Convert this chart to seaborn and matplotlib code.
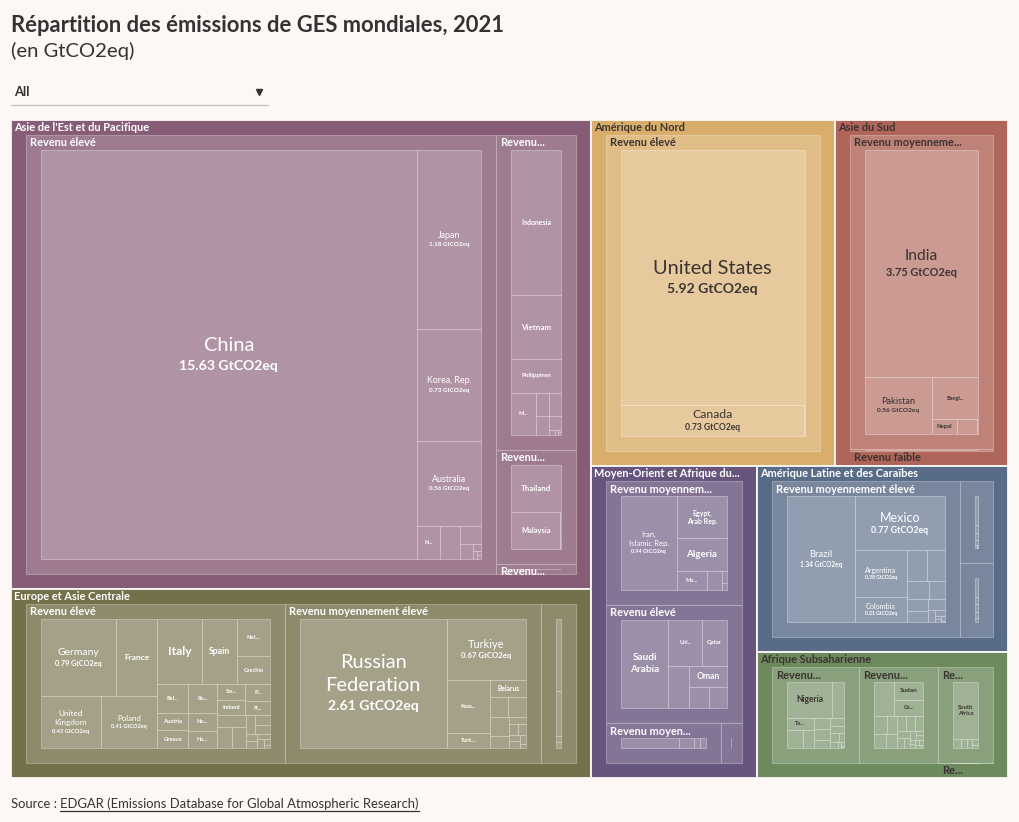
import matplotlib
matplotlib.use("Agg")
import matplotlib.pyplot as plt
import seaborn as sns
import numpy as np
import pandas as pd
from functools import lru_cache
from matplotlib.patches import Rectangle
from matplotlib.font_manager import FontProperties
from matplotlib.textpath import TextPath
import matplotlib.colors as mcolors

# ------------------------------------------------------------------ data
title = "Répartition des émissions de GES mondiales, 2021"
subtitle = "(en GtCO2eq)"
source_prefix = "Source : "
source_link = "EDGAR (Emissions Database for Global Atmospheric Research)"
dropdown_value = "All"
unit = "GtCO2eq"

regions = ["Asie de l'Est et du Pacifique", "Europe et Asie Centrale", "Amérique du Nord",
           "Asie du Sud", "Moyen-Orient et Afrique du Nord",
           "Amérique Latine et des Caraïbes", "Afrique Subsaharienne"]
region_colors = ["#875C76", "#747049", "#D9AE6A", "#AF655A", "#67557D", "#586B87", "#6C8A5D"]

INC_E = "Revenu élevé"
INC_ME = "Revenu moyennement élevé"
INC_MF = "Revenu moyennement faible"
INC_F = "Revenu faible"

# Asie de l'Est et du Pacifique
eap_eleve_pays = ["China", "Japan", "Korea, Rep.", "Australia", "New Zealand", "Singapore",
                  "Hong Kong SAR, China", "Brunei Darussalam", "New Caledonia", "Macao SAR, China",
                  "Guam", "French Polynesia"]
eap_eleve_val = [15.63, 1.18, 0.73, 0.56, 0.08, 0.065, 0.04, 0.02, 0.006, 0.003, 0.002, 0.002]
eap_mfaible_pays = ["Indonesia", "Vietnam", "Philippines", "Myanmar", "Cambodia", "Mongolia",
                    "Lao PDR", "Papua New Guinea", "Timor-Leste", "Solomon Islands", "Vanuatu", "Samoa"]
eap_mfaible_val = [1.13, 0.50, 0.26, 0.16, 0.05, 0.045, 0.04, 0.025, 0.004, 0.002, 0.001, 0.001]
eap_melev_pays = ["Thailand", "Malaysia", "Fiji", "Tonga"]
eap_melev_val = [0.45, 0.35, 0.004, 0.001]
eap_faible_pays = ["Korea, Dem. People's Rep."]
eap_faible_val = [0.07]

# Europe et Asie Centrale
eca_eleve_pays = ["Germany", "France", "United Kingdom", "Poland", "Italy", "Spain", "Netherlands",
                  "Czechia", "Belgium", "Romania", "Austria", "Greece", "Norway", "Hungary", "Sweden",
                  "Ireland", "Portugal", "Finland", "Switzerland", "Denmark", "Slovak Republic",
                  "Croatia", "Lithuania", "Slovenia", "Estonia", "Latvia", "Luxembourg", "Cyprus",
                  "Iceland", "Malta"]
eca_eleve_val = [0.79, 0.44, 0.43, 0.41, 0.40, 0.31, 0.17, 0.125, 0.12, 0.115, 0.075, 0.074, 0.072,
                 0.068, 0.063, 0.06, 0.058, 0.048, 0.046, 0.045, 0.04, 0.024, 0.02, 0.017, 0.012,
                 0.011, 0.009, 0.009, 0.005, 0.002]
eca_melev_pays = ["Russian Federation", "Turkiye", "Kazakhstan", "Turkmenistan", "Belarus",
                  "Azerbaijan", "Serbia", "Bulgaria", "Bosnia and Herzegovina", "Georgia", "Moldova",
                  "Armenia", "North Macedonia", "Albania", "Kosovo", "Montenegro"]
eca_melev_val = [2.61, 0.67, 0.32, 0.09, 0.085, 0.05, 0.05, 0.05, 0.03, 0.018, 0.013, 0.012,
                 0.01, 0.01, 0.008, 0.004]
eca_mfaible_pays = ["Ukraine", "Uzbekistan", "Kyrgyz Republic", "Tajikistan"]
eca_mfaible_val = [0.30, 0.19, 0.025, 0.025]

# Amérique du Nord
na_eleve_pays = ["United States", "Canada", "Bermuda"]
na_eleve_val = [5.92, 0.73, 0.001]

# Asie du Sud
sa_mfaible_pays = ["India", "Pakistan", "Bangladesh", "Nepal", "Sri Lanka", "Bhutan"]
sa_mfaible_val = [3.75, 0.56, 0.285, 0.055, 0.042, 0.003]
sa_faible_pays = ["Afghanistan"]
sa_faible_val = [0.03]

# Moyen-Orient et Afrique du Nord
mena_mfaible_pays = ["Iran, Islamic Rep.", "Egypt, Arab Rep.", "Algeria", "Morocco", "Tunisia",
                     "West Bank and Gaza", "Djibouti"]
mena_mfaible_val = [0.94, 0.38, 0.30, 0.10, 0.05, 0.01, 0.005]
mena_eleve_pays = ["Saudi Arabia", "United Arab Emirates", "Qatar", "Kuwait", "Oman", "Israel", "Bahrain"]
mena_eleve_val = [0.77, 0.29, 0.21, 0.16, 0.14, 0.08, 0.07]
mena_melev_pays = ["Iraq", "Libya", "Jordan", "Lebanon"]
mena_melev_val = [0.33, 0.09, 0.035, 0.03]
mena_faible_pays = ["Syrian Arab Republic", "Yemen, Rep."]
mena_faible_val = [0.05, 0.04]

# Amérique Latine et des Caraïbes
lac_melev_pays = ["Brazil", "Mexico", "Argentina", "Colombia", "Peru", "Venezuela, RB", "Ecuador",
                  "Paraguay", "Guatemala", "Dominican Republic", "Cuba", "Costa Rica", "Jamaica",
                  "Guyana", "Suriname", "Belize", "St. Lucia", "Grenada"]
lac_melev_val = [1.34, 0.77, 0.38, 0.21, 0.095, 0.09, 0.06, 0.045, 0.04, 0.035, 0.03, 0.015, 0.01,
                 0.003, 0.003, 0.003, 0.0005, 0.0003]
lac_eleve_pays = ["Chile", "Uruguay", "Trinidad and Tobago", "Panama", "Bahamas, The", "Barbados",
                  "Aruba", "Antigua and Barbuda"]
lac_eleve_val = [0.16, 0.045, 0.035, 0.03, 0.008, 0.004, 0.002, 0.001]
lac_mfaible_pays = ["Bolivia", "Honduras", "Nicaragua", "Haiti", "El Salvador"]
lac_mfaible_val = [0.11, 0.045, 0.045, 0.035, 0.025]

# Afrique Subsaharienne
ssa_mfaible_pays = ["Nigeria", "Angola", "Tanzania", "Kenya", "Cameroon", "Ghana", "Côte d'Ivoire",
                    "Zambia", "Zimbabwe", "Senegal", "Benin", "Mauritania", "Congo, Rep.", "Lesotho",
                    "Eswatini", "Comoros", "Cabo Verde"]
ssa_mfaible_val = [0.42, 0.11, 0.085, 0.075, 0.05, 0.05, 0.045, 0.035, 0.03, 0.025, 0.02, 0.012,
                   0.012, 0.004, 0.003, 0.001, 0.001]
ssa_faible_pays = ["Ethiopia", "Sudan", "Congo, Dem. Rep.", "Uganda", "Mozambique", "Mali", "Niger",
                   "Madagascar", "Chad", "Burkina Faso", "South Sudan", "Somalia", "Malawi", "Guinea",
                   "Togo", "Rwanda", "Sierra Leone", "Burundi", "Central African Republic", "Liberia",
                   "Eritrea", "Gambia, The"]
ssa_faible_val = [0.19, 0.14, 0.13, 0.065, 0.05, 0.045, 0.04, 0.04, 0.035, 0.035, 0.025, 0.02,
                  0.015, 0.015, 0.008, 0.008, 0.007, 0.006, 0.006, 0.005, 0.005, 0.002]
ssa_melev_pays = ["South Africa", "Gabon", "Botswana", "Namibia", "Equatorial Guinea", "Mauritius"]
ssa_melev_val = [0.535, 0.025, 0.02, 0.018, 0.012, 0.006]
ssa_eleve_pays = ["Seychelles"]
ssa_eleve_val = [0.003]

group_table = [
    (0, INC_E, eap_eleve_pays, eap_eleve_val),
    (0, INC_MF, eap_mfaible_pays, eap_mfaible_val),
    (0, INC_ME, eap_melev_pays, eap_melev_val),
    (0, INC_F, eap_faible_pays, eap_faible_val),
    (1, INC_E, eca_eleve_pays, eca_eleve_val),
    (1, INC_ME, eca_melev_pays, eca_melev_val),
    (1, INC_MF, eca_mfaible_pays, eca_mfaible_val),
    (2, INC_E, na_eleve_pays, na_eleve_val),
    (3, INC_MF, sa_mfaible_pays, sa_mfaible_val),
    (3, INC_F, sa_faible_pays, sa_faible_val),
    (4, INC_MF, mena_mfaible_pays, mena_mfaible_val),
    (4, INC_E, mena_eleve_pays, mena_eleve_val),
    (4, INC_ME, mena_melev_pays, mena_melev_val),
    (4, INC_F, mena_faible_pays, mena_faible_val),
    (5, INC_ME, lac_melev_pays, lac_melev_val),
    (5, INC_E, lac_eleve_pays, lac_eleve_val),
    (5, INC_MF, lac_mfaible_pays, lac_mfaible_val),
    (6, INC_MF, ssa_mfaible_pays, ssa_mfaible_val),
    (6, INC_F, ssa_faible_pays, ssa_faible_val),
    (6, INC_ME, ssa_melev_pays, ssa_melev_val),
    (6, INC_E, ssa_eleve_pays, ssa_eleve_val),
]

# ------------------------------------------------------------------ style
sns.set_theme(style="white")
FAMILY = "Lato"
plt.rcParams["font.family"] = [FAMILY, "DejaVu Sans"]
BG = "#fdf8f5"
DARK = "#3b3431"
TXT = "#333333"
PX2PT = 72.0 / 100.0
PAD = 15.0
OVERLAY = 0.19

FP = {False: FontProperties(family=[FAMILY, "DejaVu Sans"], weight="normal"),
      True: FontProperties(family=[FAMILY, "DejaVu Sans"], weight="bold")}


@lru_cache(maxsize=None)
def unit_w(s, bold):
    if not s.strip():
        return 0.0
    p = TextPath((0, 0), s, size=100, prop=FP[bold])
    return p.get_extents().x1 / 100.0


def truncate(s, px, bold, maxw):
    if unit_w(s, bold) * px <= maxw:
        return s
    for n in range(len(s) - 1, 0, -1):
        t = s[:n].rstrip(" ,") + "..."
        if unit_w(t, bold) * px <= maxw:
            return t
    return None


def wrap2(name, bold):
    words = name.split(" ")
    if len(words) < 2:
        return [name]
    best = None
    for i in range(1, len(words)):
        a = " ".join(words[:i])
        b = " ".join(words[i:])
        m = max(unit_w(a, bold), unit_w(b, bold))
        if best is None or m < best[0]:
            best = (m, [a, b])
    return best[1]


def blend(c, a):
    rgb = np.array(mcolors.to_rgb(c))
    return tuple(rgb * (1 - a) + a)


def lum(c):
    r, g, b = mcolors.to_rgb(c)
    return 0.299 * r + 0.587 * g + 0.114 * b


def binary(values, x0, y0, x1, y1):
    n = len(values)
    sums = np.concatenate([[0.0], np.cumsum(values)])
    out = [None] * n

    def part(i, j, value, x0, y0, x1, y1):
        if i >= j - 1:
            out[i] = (x0, y0, x1, y1)
            return
        off = sums[i]
        target = value / 2 + off
        k, hi = i + 1, j - 1
        while k < hi:
            mid = (k + hi) // 2
            if sums[mid] < target:
                k = mid + 1
            else:
                hi = mid
        if (target - sums[k - 1]) < (sums[k] - target) and i + 1 < k:
            k -= 1
        vl = sums[k] - off
        vr = value - vl
        if (x1 - x0) > (y1 - y0):
            xk = (x0 * vr + x1 * vl) / value if value else x1
            part(i, k, vl, x0, y0, xk, y1)
            part(k, j, vr, xk, y0, x1, y1)
        else:
            yk = (y0 * vr + y1 * vl) / value if value else y1
            part(i, k, vl, x0, y0, x1, yk)
            part(k, j, vr, x0, yk, x1, y1)

    part(0, n, sums[-1], x0, y0, x1, y1)
    return out


def shrink(r, p):
    x0, y0, x1, y1 = r[0] + p, r[1] + p, r[2] - p, r[3] - p
    if x1 < x0:
        x0 = x1 = (x0 + x1) / 2
    if y1 < y0:
        y0 = y1 = (y0 + y1) / 2
    return (x0, y0, x1, y1)


def draw_lines(ax, cx, cy, spec, color):
    H = sum(s[3] for s in spec)
    y = cy - H / 2
    for t, px, bold, lh in spec:
        ax.text(cx, y + lh / 2, t, ha="center", va="center", fontsize=px * PX2PT,
                fontweight="bold" if bold else "normal", color=color, zorder=10)
        y += lh


def country_label(ax, name, value, r, color):
    x0, y0, x1, y1 = r
    w, h = x1 - x0, y1 - y0
    if w < 23.5 or h < 12:
        return
    cx, cy = (x0 + x1) / 2, (y0 + y1) / 2
    vtxt = f"{value:g} {unit}"
    fs = min(20.0, 0.62 * w / (0.7 * unit_w(vtxt, True)))
    if w >= 50.5:
        lines = [name]
        if unit_w(name, False) * fs > 0.9 * w:
            lines = wrap2(name, False)
        mw = max(unit_w(l, False) for l in lines) * fs
        if mw > 0.9 * w:
            fs *= 0.9 * w / mw
        need = len(lines) * fs * 1.15 + 0.7 * fs * 1.3
        if need > 0.8 * h:
            fs *= 0.8 * h / need
        if fs >= 6.5:
            spec = [(l, fs, False, fs * 1.15) for l in lines] + [(vtxt, 0.7 * fs, True, 0.7 * fs * 1.3)]
            draw_lines(ax, cx, cy, spec, color)
            return
    cands = [[name]]
    if " " in name:
        cands.append(wrap2(name, True))
    best = (0.0, None)
    for lines in cands:
        mw = max(unit_w(l, True) for l in lines)
        f = min(12.0, 0.6 * w / mw, 0.5 * h / len(lines))
        if f > best[0]:
            best = (f, lines)
    f, lines = best
    if f >= 5.5:
        draw_lines(ax, cx, cy, [(l, f, True, f * 1.2) for l in lines], color)
        return
    t = truncate(name, 5.5, True, 0.4 * w)
    if t:
        draw_lines(ax, cx, cy, [(t, 5.5, True, 6.6)], color)


# ------------------------------------------------------------------ figure
fig = plt.figure(figsize=(10.2, 8.22), dpi=100, facecolor=BG)
ax = fig.add_axes([0, 0, 1, 1])
ax.set_xlim(0, 1020)
ax.set_ylim(822, 0)
ax.axis("off")
ax.set_facecolor(BG)

# header
t_px = 492 / unit_w(title, True)
ax.text(11, 31.5, title, fontsize=t_px * PX2PT, fontweight="bold", color=TXT, va="baseline", ha="left")
s_px = 123 / unit_w(subtitle, False)
ax.text(11, 57, subtitle, fontsize=s_px * PX2PT, color=TXT, va="baseline", ha="left")
ax.text(14, 96.5, dropdown_value, fontsize=13 * PX2PT, fontweight="bold", color=TXT, va="baseline")
ax.plot([259], [92.5], marker="v", markersize=4.2, color=TXT, linestyle="none")
ax.plot([11, 268], [105, 105], color="#c9c5c2", lw=1)

# footer
src_px = 409 / unit_w(source_prefix + source_link, False)
ax.text(11, 808, source_prefix, fontsize=src_px * PX2PT, color=TXT, va="baseline")
lx0 = 11 + unit_w(source_prefix.rstrip() + " ", False) * src_px + src_px * 0.25
ax.text(lx0, 808, source_link, fontsize=src_px * PX2PT, color=TXT, va="baseline")
lx1 = lx0 + unit_w(source_link, False) * src_px
ax.plot([lx0, lx1], [810.5, 810.5], color=TXT, lw=0.9)

# hierarchy from the arrays
df = pd.DataFrame(
    [(regions[ri], inc, p, v) for ri, inc, ps, vs in group_table for p, v in zip(ps, vs)],
    columns=["region", "income", "country", "value"])
reg_tot = df.groupby("region")["value"].sum().sort_values(ascending=False)
palette = dict(zip(regions, sns.color_palette(region_colors)))

root = (11.0, 120.0, 1008.0, 778.0)
reg_rects = binary(reg_tot.values, *root)

region_label_px = 11.0
group_label_px = 11.0

for reg, rrect in zip(reg_tot.index, reg_rects):
    base = palette[reg]
    tcol = DARK if lum(base) > 0.45 else "white"
    x0, y0, x1, y1 = rrect
    ax.add_patch(Rectangle((x0, y0), x1 - x0, y1 - y0, facecolor=base, edgecolor=BG, lw=1.3, zorder=1))
    sub = df[df.region == reg]
    g_tot = sub.groupby("income")["value"].sum().sort_values(ascending=False)
    g_rects = binary(g_tot.values, *shrink(rrect, PAD))
    gcol = blend(base, OVERLAY)
    ccol = blend(gcol, OVERLAY)
    for inc, grect in zip(g_tot.index, g_rects):
        gx0, gy0, gx1, gy1 = grect
        ax.add_patch(Rectangle((gx0, gy0), gx1 - gx0, gy1 - gy0, facecolor=gcol,
                               edgecolor=(1, 1, 1, 0.28), lw=0.8, zorder=2))
        cs = sub[sub.income == inc].sort_values("value", ascending=False)
        c_rects = binary(cs.value.values, *shrink(grect, PAD))
        for (name, val), crect in zip(zip(cs.country, cs.value), c_rects):
            cx0, cy0, cx1, cy1 = crect
            ax.add_patch(Rectangle((cx0, cy0), cx1 - cx0, cy1 - cy0, facecolor=ccol,
                                   edgecolor=(1, 1, 1, 0.32), lw=0.7, zorder=3))
            country_label(ax, name, val, crect, tcol)
        gw = gx1 - gx0
        if gw >= 40:
            lab = truncate(inc, group_label_px, True, gw - 34)
            if lab:
                ax.text(gx0 + 4, gy0 + 8, lab, fontsize=group_label_px * PX2PT, fontweight="bold",
                        color=tcol, va="center", ha="left", zorder=11)
    lab = truncate(reg, region_label_px, True, (x1 - x0) - 12)
    if lab:
        ax.text(x0 + 3.5, y0 + 7.5, lab, fontsize=region_label_px * PX2PT, fontweight="bold",
                color=tcol, va="center", ha="left", zorder=11)

fig.savefig("out.png", dpi=100, facecolor=BG)
